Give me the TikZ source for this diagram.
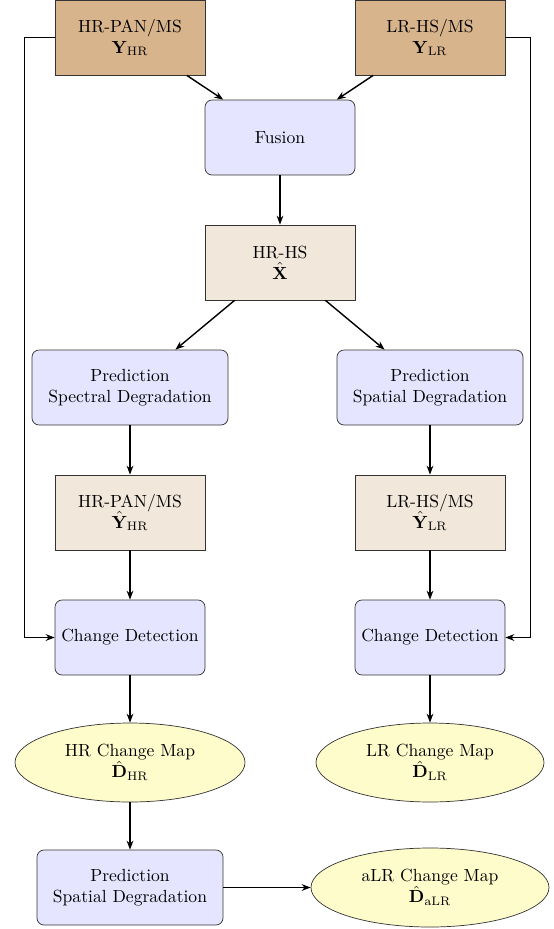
\documentclass[tikz,border=0pt]{standalone}
\usepackage{amsmath,amssymb}
\usepackage{tikz}
\usetikzlibrary{
    arrows.meta,
    positioning,
    shapes.geometric
}
\usepackage{xcolor}
\definecolor{inputtan}{RGB}{215,180,140}
\definecolor{datatan}{RGB}{241,231,218}

\begin{document}
\begin{tikzpicture}[
    data/.style={
        rectangle, draw=black!80, fill=datatan,
        minimum width=3cm, minimum height=1.5cm,
        align=center
    },
    proc/.style={
        rectangle, rounded corners=4pt, draw=black!80, fill=blue!10,
        minimum width=3cm, minimum height=1.5cm,
        align=center
    },
    cmap/.style={
        ellipse, draw=black!80, fill=yellow!20,
        minimum height=1.58cm, align=center
    },
    arrow/.style={-{Stealth[length=1.8mm]}, thick}
]
\useasboundingbox (0,0) rectangle (11.08,-18.58);

% Inputs
\node[data, fill=inputtan] (ypan) at (2.6, -0.75) {HR-PAN/MS\\$\mathbf{Y}_{\mathrm{HR}}$};
\node[data, fill=inputtan] (ylr)  at (8.6, -0.75) {LR-HS/MS\\$\mathbf{Y}_{\mathrm{LR}}$};

% Fusion
\node[proc] (fusion) at (5.6, -2.75) {Fusion};
\node[data] (xhat)   at (5.6, -5.25) {HR-HS\\$\hat{\mathbf{X}}$};

% Degradation branches
\node[proc, minimum width=3.92cm] (predspec) at (2.6, -7.75) {Prediction\\Spectral Degradation};
\node[proc, minimum width=3.72cm] (predspat) at (8.6, -7.75) {Prediction\\Spatial Degradation};
\node[data] (yhatpan) at (2.6, -10.25) {HR-PAN/MS\\$\hat{\mathbf{Y}}_{\mathrm{HR}}$};
\node[data] (yhatlr)  at (8.6, -10.25) {LR-HS/MS\\$\hat{\mathbf{Y}}_{\mathrm{LR}}$};

% Change detection
\node[proc] (cdhr) at (2.6, -12.75) {Change Detection};
\node[proc] (cdlr) at (8.6, -12.75) {Change Detection};
\node[cmap, minimum width=4.6cm]  (hrmap) at (2.6, -15.25) {HR Change Map\\$\hat{\mathbf{D}}_{\mathrm{HR}}$};
\node[cmap, minimum width=4.56cm] (lrmap) at (8.6, -15.25) {LR Change Map\\$\hat{\mathbf{D}}_{\mathrm{LR}}$};

% aLR branch
\node[proc, minimum width=3.72cm] (predspat2) at (2.6, -17.75) {Prediction\\Spatial Degradation};
\node[cmap, minimum width=4.76cm] (alrmap) at (8.6, -17.75) {aLR Change Map\\$\hat{\mathbf{D}}_{\mathrm{aLR}}$};

% Main flow arrows
\draw[arrow] (ypan) -- (fusion);
\draw[arrow] (ylr) -- (fusion);
\draw[arrow] (fusion) -- (xhat);
\draw[arrow] (xhat) -- (predspec);
\draw[arrow] (xhat) -- (predspat);
\draw[arrow] (predspec) -- (yhatpan);
\draw[arrow] (predspat) -- (yhatlr);
\draw[arrow] (yhatpan) -- (cdhr);
\draw[arrow] (yhatlr) -- (cdlr);
\draw[arrow] (cdhr) -- (hrmap);
\draw[arrow] (cdlr) -- (lrmap);
\draw[arrow] (hrmap) -- (predspat2);
\draw[arrow] (predspat2) -- (alrmap);

% Observations to change detection
\draw[arrow] (ypan.west) -- ++(-0.6,0) |- (cdhr.west);
\draw[arrow] (ylr.east) -- ++(0.5,0) |- (cdlr.east);

\end{tikzpicture}
\end{document}
